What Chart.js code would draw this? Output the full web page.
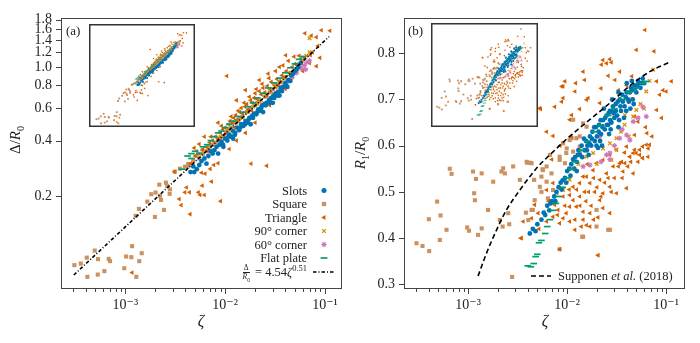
<!DOCTYPE html>
<html>
<head>
<meta charset="utf-8">
<script src="https://cdn.jsdelivr.net/npm/chart.js@4.4.0/dist/chart.umd.min.js"></script>
<style>
  body { margin: 0; background: #fff; }
  #wrap { position: relative; width: 700px; height: 343px; overflow: hidden; font-family: "Liberation Serif", "DejaVu Serif", serif; color: #222; }
  canvas { position: absolute; }
  .t { position: absolute; white-space: nowrap; line-height: 1; }
  .leg { position: absolute; left: 170px; width: 137px; text-align: right; font-size: 12.5px; line-height: 1; white-space: nowrap; }
  .frac { display: inline-block; vertical-align: middle; text-align: center; font-size: 7.5px; line-height: 1; margin-right: 2px; }
  .frac span { display: block; }
  .frac .num { border-bottom: 0.7px solid #222; padding: 0 1px; }
  .inset { background: #fff; }
</style>
</head>
<body>
<div id="wrap">
  <canvas id="chartA" width="350" height="343" style="left:0;top:0"></canvas>
  <canvas id="chartB" width="350" height="343" style="left:350px;top:0"></canvas>
  <canvas id="insetA" class="inset" width="106" height="103" style="left:89px;top:24px"></canvas>
  <canvas id="insetB" class="inset" width="107" height="104" style="left:431px;top:23px"></canvas>

  <div class="t" style="left:66px;top:24px;font-size:13px">(a)</div>
  <div class="t" style="left:408px;top:24px;font-size:13px">(b)</div>

  <div class="t" style="left:17px;top:140px;font-size:15px;transform:translate(-50%,-50%) rotate(-90deg)">&Delta;/<i>R</i><sub style="font-size:10px">0</sub></div>
  <div class="t" style="left:201px;top:321px;font-size:16px;transform:translate(-50%,-50%)"><i>&zeta;</i></div>
  <div class="t" style="left:362px;top:153px;font-size:15px;transform:translate(-50%,-50%) rotate(-90deg)"><i>R</i><sub style="font-size:10px">1</sub>/<i>R</i><sub style="font-size:10px">0</sub></div>
  <div class="t" style="left:545px;top:321px;font-size:16px;transform:translate(-50%,-50%)"><i>&zeta;</i></div>

  <div class="leg" style="top:184.5px">Slots</div>
  <div class="leg" style="top:198px">Square</div>
  <div class="leg" style="top:211.5px">Triangle</div>
  <div class="leg" style="top:225px">90° corner</div>
  <div class="leg" style="top:238.5px">60° corner</div>
  <div class="leg" style="top:252px">Flat plate</div>
  <div class="leg" style="top:264px"><span class="frac"><span class="num">&Delta;</span><span><i>R</i><sub style="font-size:5.5px">0</sub></span></span> = 4.54<i>&zeta;</i><sup style="font-size:8.5px">0.51</sup></div>

  <div class="t" style="left:558px;top:270px;font-size:12.5px">Supponen <i>et al.</i> (2018)</div>
</div>

<script>
// ---------- data: panel (a)  [zeta, Delta/R0] ----------
var slotsA = [[0.0045,0.27],[0.0048,0.29],[0.0049,0.27],[0.0052,0.28],[0.0058,0.31],[0.0062,0.32],[0.0065,0.30],[0.0068,0.33],
  [0.0072,0.35],[0.0078,0.355],[0.0082,0.37],[0.0085,0.34],[0.0088,0.38],[0.0092,0.395],[0.0096,0.37],[0.0100,0.41],
  [0.0105,0.40],[0.0110,0.43],[0.0115,0.42],[0.0120,0.45],[0.0120,0.41],[0.0126,0.44],[0.0132,0.47],[0.0138,0.455],
  [0.0145,0.49],[0.0152,0.48],[0.016,0.51],[0.0168,0.50],[0.0175,0.53],[0.018,0.49],[0.0185,0.54],[0.0195,0.56],
  [0.0205,0.555],[0.0215,0.59],[0.0225,0.58],[0.024,0.57],[0.0235,0.62],[0.0248,0.63],[0.026,0.64],[0.0275,0.66],
  [0.029,0.68],[0.030,0.64],[0.0305,0.70],[0.032,0.72],[0.034,0.73],[0.035,0.70],[0.036,0.77],[0.038,0.78],
  [0.040,0.82],[0.042,0.78],[0.043,0.85],[0.046,0.90],[0.050,0.95],[0.054,1.0],[0.057,1.05],
  [0.0055,0.295],[0.0075,0.34],[0.0095,0.38],[0.0108,0.42],[0.0125,0.43],[0.0142,0.47],[0.0158,0.49],[0.0172,0.52],
  [0.019,0.53],[0.021,0.57],[0.023,0.60],[0.0255,0.62],[0.028,0.64],[0.031,0.68],[0.0335,0.70],[0.037,0.74],
  [0.041,0.79],[0.045,0.84],[0.048,0.92],[0.052,0.97]];
var squareA = [[3.09e-4,0.0848],[3.58e-4,0.0865],[4.11e-4,0.0931],[4.17e-4,0.0733],[4.94e-4,0.1016],[5.33e-4,0.0914],
  [5.30e-4,0.0754],[6.17e-4,0.0787],[6.82e-4,0.0917],[7.03e-4,0.0891],[9.77e-4,0.0816],[1.02e-3,0.0944],[1.17e-3,0.1074],
  [1.15e-3,0.0936],[1.38e-3,0.0891],[1.46e-3,0.0984],[1.29e-3,0.0733],[1.27e-3,0.1566],[1.37e-3,0.1708],[1.66e-3,0.187],
  [1.82e-3,0.205],[2.01e-3,0.2094],[1.98e-3,0.1545],[2.19e-3,0.231],[2.22e-3,0.201],[2.28e-3,0.191],[2.44e-3,0.1687],
  [2.55e-3,0.237],[2.63e-3,0.2275],[2.80e-3,0.218],[2.78e-3,0.206],[3.14e-3,0.2717],[3.52e-3,0.282],[3.95e-3,0.289],
  [4.27e-3,0.299],[0.0042,0.29],[0.0048,0.31],[0.0055,0.32],[0.006,0.34],[0.0065,0.35],[0.007,0.37],[0.0075,0.38],
  [0.008,0.39],[0.0088,0.41],[0.0095,0.42],[0.0105,0.45],[0.0115,0.47],[0.0125,0.50],[0.0135,0.51],[0.015,0.54],
  [0.0165,0.57],[0.018,0.59],[0.02,0.62],[0.022,0.65],[0.025,0.69],[0.028,0.73],[0.032,0.78],[0.036,0.83],[0.04,0.88],
  [0.0052,0.33],[0.0068,0.36],[0.0085,0.40],[0.011,0.46],[0.014,0.53],[0.017,0.58],[0.021,0.64],[0.026,0.70],
  [0.03,0.76],[0.034,0.80]];
var triangleA = [[0.0045,0.30],[0.005,0.33],[0.0055,0.34],[0.006,0.36],[0.0065,0.37],[0.0068,0.35],[0.007,0.39],[0.0075,0.40],
  [0.008,0.42],[0.0085,0.41],[0.009,0.44],[0.0095,0.46],[0.01,0.47],[0.0102,0.44],[0.0108,0.49],[0.0112,0.51],[0.0118,0.50],
  [0.0122,0.53],[0.0128,0.55],[0.0132,0.52],[0.014,0.57],[0.0145,0.60],[0.015,0.56],[0.0158,0.61],[0.0165,0.63],[0.017,0.59],
  [0.018,0.66],[0.0188,0.64],[0.0195,0.68],[0.02,0.72],[0.021,0.67],[0.022,0.74],[0.023,0.71],[0.024,0.77],[0.025,0.73],
  [0.0265,0.79],[0.028,0.76],[0.029,0.83],[0.031,0.80],[0.033,0.86],[0.035,0.84],[0.037,0.90],[0.039,0.88],[0.041,0.95],
  [0.044,0.93],[0.047,1.0],[0.05,1.04],[0.053,1.02],[0.057,1.10],[0.062,1.12],
  [0.0104,0.894],[0.0405,1.157],[0.049,1.137],[0.0714,1.157],[0.082,1.01],[0.089,1.12],[0.073,1.476],[0.112,1.57],
  [0.092,1.58],[0.063,1.52],[0.082,1.45],[0.016,0.75],[0.013,0.66],[0.0085,0.50],[0.0062,0.42],[0.022,0.85],[0.027,0.92],
  [0.035,1.0],[0.0182,0.30],[0.0261,0.292],[0.0031,0.271],[0.0041,0.223],[0.00395,0.21],[0.0044,0.21],[0.00347,0.193],
  [0.00363,0.179],[0.00446,0.16],[0.0054,0.21],[0.0059,0.228],[0.0056,0.203],[0.0062,0.203],[0.0073,0.24],[0.009,0.188],
  [0.0058,0.268],[0.0063,0.265],[0.0071,0.281],[0.0077,0.295],[0.0085,0.302],[0.0049,0.365],[0.0059,0.356],[0.0055,0.383],
  [0.00117,0.0773],[0.011,0.36],[0.013,0.40],[0.016,0.44],[0.02,0.50],[0.028,0.62],[0.04,0.76],[0.06,0.95],[0.07,1.05],
  [0.075,1.2],[0.085,1.3],
  [0.0052,0.35],[0.0072,0.42],[0.0092,0.48],[0.0115,0.54],[0.0135,0.58],[0.0155,0.64],[0.0175,0.69],[0.0205,0.76],
  [0.0235,0.81],[0.0275,0.87],[0.032,0.95],[0.038,1.02],[0.043,1.08],[0.055,1.15],[0.0098,0.43],[0.0125,0.47],
  [0.0185,0.58],[0.026,0.70],[0.034,0.80],[0.045,0.90]];
var corner90A = [[0.009,0.42],[0.011,0.46],[0.013,0.50],[0.015,0.53],[0.017,0.57],[0.019,0.61],[0.021,0.63],[0.023,0.66],
  [0.026,0.71],[0.029,0.74],[0.032,0.79],[0.036,0.83],[0.04,0.87],[0.045,0.93],[0.05,0.98],[0.055,1.03],[0.06,1.08],
  [0.065,1.15],[0.07,1.2],[0.07,1.43]];
var corner60A = [[0.016,0.50],[0.019,0.55],[0.022,0.59],[0.025,0.63],[0.028,0.67],[0.031,0.70],[0.034,0.74],[0.038,0.78],
  [0.042,0.83],[0.047,0.88],[0.052,0.93],[0.058,0.98],[0.062,1.02],[0.066,1.06],[0.07,1.08],[0.064,0.97]];
var flatA = [[0.0037,0.28],[0.0042,0.33],[0.0046,0.32],[0.0046,0.34],[0.005,0.35],[0.0055,0.34],[0.006,0.37],[0.0066,0.38],
  [0.0072,0.40],[0.0078,0.42],[0.0085,0.44],[0.0092,0.45],[0.01,0.47],[0.011,0.49],[0.012,0.51],[0.0135,0.54],[0.015,0.57],
  [0.017,0.61],[0.019,0.64],[0.021,0.68],[0.024,0.72],[0.027,0.77],[0.031,0.82],[0.035,0.87],[0.04,0.93],[0.045,0.99],
  [0.05,1.04],[0.055,1.10],[0.06,1.14]];
var fitZeta = [3.05e-4, 0.11];
var fitDelta = [0.075, 1.46];

// ---------- data: panel (b)  [zeta, R1/R0] ----------
var slotsB = [[0.0042,0.41],[0.0045,0.42],[0.0048,0.415],[0.005,0.43],[0.0055,0.44],[0.006,0.45],[0.0063,0.47],[0.0066,0.46],
  [0.007,0.48],[0.0074,0.49],[0.0078,0.50],[0.0082,0.51],[0.0086,0.52],[0.009,0.525],[0.0095,0.53],[0.01,0.545],[0.0105,0.55],
  [0.011,0.56],[0.0115,0.57],[0.012,0.575],[0.0125,0.565],[0.013,0.59],[0.0135,0.58],[0.014,0.60],[0.015,0.59],[0.0155,0.61],
  [0.016,0.60],[0.017,0.62],[0.0175,0.60],[0.018,0.63],[0.019,0.61],[0.0195,0.64],[0.02,0.62],[0.021,0.645],[0.022,0.625],
  [0.023,0.655],[0.024,0.635],[0.025,0.665],[0.026,0.645],[0.027,0.675],[0.028,0.65],[0.029,0.685],[0.03,0.66],[0.031,0.69],
  [0.032,0.665],[0.034,0.70],[0.035,0.675],[0.036,0.71],[0.038,0.685],[0.04,0.715],[0.042,0.695],[0.044,0.725],[0.046,0.70],
  [0.048,0.73],[0.05,0.715],[0.052,0.74],[0.055,0.725],[0.058,0.745],[0.06,0.735],[0.0205,0.595],[0.0165,0.58],[0.0125,0.545],
  [0.0225,0.60],[0.0265,0.625],[0.033,0.64],[0.0375,0.66],[0.0435,0.68],[0.047,0.69],[0.0285,0.70],[0.0235,0.68],[0.033,0.715],
  [0.04,0.735],[0.045,0.74],
  [0.0058,0.455],[0.0068,0.475],[0.0076,0.48],[0.0088,0.505],[0.0098,0.52],[0.0108,0.535],[0.0118,0.55],[0.0128,0.58],
  [0.0142,0.575],[0.0148,0.615],[0.0158,0.59],[0.0168,0.605],[0.0178,0.615],[0.0188,0.64],[0.0198,0.60],[0.0208,0.63],
  [0.0218,0.655],[0.0228,0.64],[0.0242,0.66],[0.0252,0.645],[0.0262,0.67],[0.0272,0.655],[0.0282,0.675],[0.0295,0.67],
  [0.031,0.675],[0.0325,0.695],[0.0345,0.685],[0.0365,0.695],[0.039,0.705],[0.041,0.70],[0.043,0.715],[0.0455,0.72],
  [0.049,0.725],[0.051,0.73],[0.054,0.735],[0.057,0.735],[0.0335,0.655],[0.0395,0.675],[0.0275,0.635],[0.0215,0.61]];
var squareB = [[3.01e-4,0.389],[3.46e-4,0.383],[4.04e-4,0.372],[4.01e-4,0.441],[4.86e-4,0.479],[5.26e-4,0.449],[5.18e-4,0.396],
  [6.05e-4,0.418],[6.53e-4,0.55],[6.8e-4,0.539],[9.77e-4,0.423],[1.02e-3,0.416],[1.12e-3,0.544],[1.2e-3,0.528],[1.15e-3,0.497],
  [1.17e-3,0.482],[1.26e-3,0.407],[1.37e-3,0.421],[1.37e-3,0.54],[1.59e-3,0.461],[1.79e-3,0.522],[2.17e-3,0.544],[2.26e-3,0.551],
  [2.35e-3,0.54],[2.09e-3,0.439],[2.23e-3,0.425],[2.54e-3,0.454],[2.6e-3,0.43],[2.85e-3,0.555],[2.78e-3,0.316],[3.33e-3,0.526],
  [3.94e-3,0.563],[4.37e-3,0.562],[4.64e-3,0.526],[3.9e-3,0.565],[4.2e-3,0.563],[5.64e-3,0.549],[5.5e-3,0.533],[5.3e-3,0.511],
  [4.7e-3,0.482],[6.2e-3,0.522],[4.37e-3,0.461],[3.83e-3,0.455],[5.7e-3,0.547],[6.95e-3,0.54],[7.2e-3,0.504],[6.4e-3,0.486],
  [5.5e-3,0.5],[9.1e-3,0.605],[1.06e-2,0.612],[1.24e-2,0.616],[1.34e-2,0.598],[9.8e-3,0.584],[8.4e-3,0.569],[1.98e-2,0.461],
  [1.98e-2,0.425],[2.7e-2,0.418],[1.45e-2,0.403],[8.4e-3,0.376],[4.5e-3,0.461],[4.05e-3,0.439],[1.15e-2,0.656],[1.45e-2,0.648],
  [1.57e-2,0.641],[1.34e-2,0.62],[1.11e-2,0.616],[9.9e-3,0.594],[1.15e-2,0.587],[1.34e-2,0.587],[8.4e-3,0.576],[6.7e-3,0.58],
  [6.2e-3,0.555],[9.5e-3,0.562],[1.42e-2,0.403],[2.6e-2,0.418]];
var triangleB = [[6.1e-2,0.85],[5.0e-2,0.807],[7.55e-2,0.804],[2.22e-2,0.775],[2.5e-2,0.778],[2.8e-2,0.78],[2.7e-2,0.787],
  [1.45e-2,0.76],[3.4e-2,0.76],[2.6e-2,0.751],[3.04e-2,0.742],[9.5e-3,0.739],[1.22e-2,0.735],[8.8e-3,0.728],[2.2e-2,0.724],
  [1.2e-2,0.717],[1.63e-2,0.703],[1.57e-2,0.699],[9.1e-3,0.703],[8.8e-3,0.695],[2.14e-2,0.692],[7.5e-3,0.684],[5.4e-3,0.679],
  [1.34e-2,0.679],[8.0e-2,0.739],[0.113,0.739],[0.1,0.717],[9.3e-2,0.72],[8.6e-2,0.71],[1.11e-2,0.666],[1.06e-2,0.656],
  [7.2e-3,0.621],[6.2e-3,0.63],[4.8e-2,0.663],[5.2e-2,0.652],[8.0e-2,0.677],[6.4e-2,0.627],[4.8e-2,0.623],[6.8e-2,0.602],
  [5.8e-2,0.598],[6.6e-2,0.594],[4.65e-2,0.584],[5.4e-2,0.58],[4.3e-2,0.576],[5.8e-2,0.573],[3.55e-2,0.565],[3.83e-2,0.562],
  [1.5e-2,0.742],[2.3e-2,0.785],[9.1e-3,0.728],[5.3e-3,0.681],[3.46e-3,0.4],[2.05e-2,0.363],[8.4e-3,0.376],
  [1.57e-2,0.533],[1.83e-2,0.547],[1.7e-2,0.519],[2.14e-2,0.526],[2.5e-2,0.54],[2.92e-2,0.555],[3.4e-2,0.562],[3.67e-2,0.544],
  [4.3e-2,0.576],[5.0e-2,0.584],[5.8e-2,0.573],[6.55e-2,0.576],[4.65e-2,0.54],[2.7e-2,0.511],[2.3e-2,0.497],[1.9e-2,0.5],
  [1.5e-2,0.5],[1.34e-2,0.49],[1.15e-2,0.482],[1.06e-2,0.468],[1.24e-2,0.468],[1.45e-2,0.457],[1.7e-2,0.454],[9.8e-3,0.454],
  [9.1e-3,0.443],[8.4e-3,0.432],[1.06e-2,0.436],[1.39e-2,0.425],[1.57e-2,0.428],[8.1e-3,0.461],[7.5e-3,0.472],[9.1e-3,0.49],
  [1.06e-2,0.493],[1.15e-2,0.511],[1.34e-2,0.519],[1.45e-2,0.533],[1.98e-2,0.562],[2.3e-2,0.569],[2.7e-2,0.58],[3.15e-2,0.591],
  [3.98e-2,0.598],[4.8e-2,0.591],[5.4e-2,0.591],[6.3e-2,0.602],[7.2e-3,0.446],[6.2e-3,0.436],[5.1e-3,0.454],[4.37e-3,0.443],
  [4.7e-3,0.472],[3.6e-3,0.436],[1.7e-2,0.425],[1.2e-2,0.418],[2.7e-2,0.454],[2.14e-2,0.482],[3.15e-2,0.497],[3.98e-2,0.508],
  [7.2e-3,0.519],[6.2e-3,0.504],[3.4e-3,0.4],[2.05e-2,0.363],
  [0.0125,0.505],[0.0135,0.47],[0.0155,0.48],[0.0165,0.50],[0.0175,0.47],[0.0185,0.53],[0.02,0.51],[0.022,0.49],
  [0.024,0.52],[0.026,0.53],[0.028,0.50],[0.03,0.53],[0.033,0.555],[0.036,0.53],[0.041,0.555],[0.044,0.565],[0.038,0.585],
  [0.052,0.565],[0.0095,0.47],[0.0105,0.505],[0.008,0.45],[0.0185,0.44],[0.0205,0.445],[0.023,0.465],[0.0145,0.44],
  [0.012,0.44],[0.0065,0.48],[0.0058,0.455],[0.0052,0.42],[0.0115,0.55],[0.016,0.56],[0.011,0.62],[0.007,0.57],[0.0085,0.60],
  [0.062,0.64],[0.072,0.62],[0.09,0.66],[0.033,0.72],[0.04,0.73],[0.045,0.75]];
var corner90B = [[0.0078,0.497],[0.0091,0.504],[0.0106,0.526],[0.0115,0.551],[0.013,0.56],[0.0157,0.576],[0.0183,0.584],
  [0.023,0.594],[0.027,0.605],[0.028,0.569],[0.0315,0.591],[0.0315,0.616],[0.035,0.63],[0.038,0.645],[0.0383,0.666],
  [0.0465,0.663],[0.05,0.677],[0.055,0.69],[0.063,0.717],[0.068,0.74],[0.074,0.764],[0.042,0.62],[0.02,0.56],[0.045,0.70],
  [0.06,0.68]];
var corner60B = [[0.0145,0.555],[0.017,0.558],[0.0214,0.62],[0.025,0.58],[0.027,0.584],[0.027,0.57],[0.03,0.60],[0.034,0.616],
  [0.036,0.635],[0.043,0.612],[0.0398,0.623],[0.0465,0.652],[0.058,0.684],[0.063,0.663],[0.052,0.66],[0.022,0.565]];
var flatB = [[0.0040,0.34],[0.0043,0.338],[0.0046,0.345],[0.0048,0.36],[0.005,0.365],[0.0052,0.39],[0.0055,0.395],[0.006,0.41],
  [0.0063,0.425],[0.0067,0.44],[0.0072,0.46],[0.0077,0.475],[0.0082,0.49],[0.009,0.51],[0.01,0.53],[0.011,0.55],[0.012,0.565],
  [0.014,0.59],[0.016,0.61],[0.019,0.63],[0.022,0.645],[0.026,0.665],[0.03,0.68],[0.036,0.70],[0.042,0.715],[0.05,0.725],
  [0.058,0.735],[0.063,0.739]];
var suppZeta = [1.26e-3, 1.53e-3, 1.94e-3, 2.44e-3, 3.33e-3, 4.91e-3, 7.23e-3, 1.06e-2, 1.69e-2, 2.70e-2, 4.64e-2, 6.84e-2, 0.112];
var suppR = [0.318, 0.367, 0.418, 0.461, 0.504, 0.551, 0.587, 0.620, 0.656, 0.692, 0.735, 0.760, 0.782];

// ---------- ticks ----------
var xMajor = [0.001, 0.01, 0.1];
var xMajorLabels = ['10\u207B\u00B3', '10\u207B\u00B2', '10\u207B\u00B9'];
var xMinor = [3e-4, 4e-4, 5e-4, 6e-4, 7e-4, 8e-4, 9e-4, 2e-3, 3e-3, 4e-3, 5e-3, 6e-3, 7e-3, 8e-3, 9e-3,
  2e-2, 3e-2, 4e-2, 5e-2, 6e-2, 7e-2, 8e-2, 9e-2];
var yTicksA = [0.2, 0.4, 0.6, 0.8, 1.0, 1.2, 1.4, 1.6, 1.8];
var yTicksB = [0.3, 0.4, 0.5, 0.6, 0.7, 0.8];

var colors = {
    slots: '#0173b2', square: '#ca9161', triangle: '#d55e00',
    c90: '#de8f05', c60: '#cc78bc', flat: '#029e73'
};
var FONT = '"Liberation Serif", "DejaVu Serif", serif';

function toPts(a) {
    return a.map(function (p) { return {x: p[0], y: p[1]}; });
}
function zip(xs, ys) {
    return xs.map(function (x, i) { return {x: x, y: ys[i]}; });
}

// marker styles shared by the scatter and the legend
var markers = {
    slots: {pointStyle: 'circle', radius: 2.4, rotation: 0, borderWidth: 0, color: colors.slots},
    square: {pointStyle: 'rect', radius: 2.9, rotation: 0, borderWidth: 0, color: colors.square},
    triangle: {pointStyle: 'triangle', radius: 2.7, rotation: -90, borderWidth: 0, color: colors.triangle},
    c90: {pointStyle: 'crossRot', radius: 2.5, rotation: 0, borderWidth: 1.3, color: colors.c90},
    c60: {pointStyle: 'star', radius: 2.6, rotation: 0, borderWidth: 1.1, color: colors.c60},
    flat: {pointStyle: 'line', radius: 3.3, rotation: 0, borderWidth: 1.7, color: colors.flat}
};

function scatterSet(label, data, m, order, scale) {
    return {
        label: label,
        data: toPts(data),
        showLine: false,
        pointStyle: m.pointStyle,
        pointRadius: m.radius * scale,
        pointRotation: m.rotation,
        pointBorderWidth: m.borderWidth > 0 ? m.borderWidth * scale : 0,
        pointBackgroundColor: m.color,
        pointBorderColor: m.color,
        order: order
    };
}

function panelSets(d, scale) {
    return [
        scatterSet('Slots', d.slots, markers.slots, 3, scale),
        scatterSet('Square', d.square, markers.square, 7, scale),
        scatterSet('Triangle', d.triangle, markers.triangle, 6, scale),
        scatterSet('90° corner', d.c90, markers.c90, 5, scale),
        scatterSet('60° corner', d.c60, markers.c60, 4, scale),
        scatterSet('Flat plate', d.flat, markers.flat, 2, scale)
    ];
}

// frame + outward tick marks drawn from the scales
var frameTicks = {
    id: 'frameTicks',
    afterDraw: function (chart, args, opts) {
        var ctx = chart.ctx, a = chart.chartArea;
        var xs = chart.scales.x, ys = chart.scales.y;
        ctx.save();
        ctx.strokeStyle = '#444';
        ctx.lineWidth = 1;
        ctx.beginPath();
        (opts.xMajor || []).forEach(function (v) {
            var px = Math.round(xs.getPixelForValue(v)) + 0.5;
            ctx.moveTo(px, a.bottom); ctx.lineTo(px, a.bottom + 5);
        });
        (opts.xMinor || []).forEach(function (v) {
            var px = Math.round(xs.getPixelForValue(v)) + 0.5;
            ctx.moveTo(px, a.bottom); ctx.lineTo(px, a.bottom + 3);
        });
        (opts.yMajor || []).forEach(function (v) {
            var py = Math.round(ys.getPixelForValue(v)) + 0.5;
            ctx.moveTo(a.left, py); ctx.lineTo(a.left - 5, py);
        });
        ctx.stroke();
        ctx.lineWidth = opts.frameWidth || 1;
        ctx.strokeStyle = opts.frameColor || '#444';
        var inset = (opts.frameWidth || 1) / 2;
        ctx.strokeRect(Math.round(a.left) + inset, Math.round(a.top) + inset,
            Math.round(a.right - a.left) - 2 * inset, Math.round(a.bottom - a.top) - 2 * inset);
        ctx.restore();
    }
};

// legend markers (panel a) and dashed sample (panel b)
var legendMarks = {
    id: 'legendMarks',
    afterDraw: function (chart, args, opts) {
        var ctx = chart.ctx;
        ctx.save();
        (opts.items || []).forEach(function (it) {
            if (it.marker) {
                var m = it.marker;
                ctx.fillStyle = m.color;
                ctx.strokeStyle = m.color;
                ctx.lineWidth = m.borderWidth || 1;
                Chart.helpers.drawPoint(ctx, {
                    pointStyle: m.pointStyle, radius: m.radius * 1.05, rotation: m.rotation,
                    borderWidth: m.borderWidth
                }, it.x, it.y);
            } else {
                ctx.strokeStyle = '#000';
                ctx.lineWidth = 1.6;
                ctx.setLineDash(it.dash);
                ctx.beginPath();
                ctx.moveTo(it.x, it.y);
                ctx.lineTo(it.x2, it.y);
                ctx.stroke();
                ctx.setLineDash([]);
            }
        });
        ctx.restore();
    }
};

function logTicks(scale) {
    scale.ticks = xMajor.concat(xMinor).sort(function (a, b) { return a - b; })
        .map(function (v) { return {value: v}; });
}
function xLabel(v) {
    var i = xMajor.indexOf(v);
    return i >= 0 ? xMajorLabels[i] : '';
}

function mainOptions(cfg) {
    return {
        responsive: false,
        animation: false,
        events: [],
        layout: {autoPadding: false, padding: {top: 18, right: cfg.padRight, left: 0, bottom: 0}},
        plugins: {
            legend: {display: false},
            tooltip: {enabled: false},
            frameTicks: {xMajor: xMajor, xMinor: xMinor, yMajor: cfg.yTicks},
            legendMarks: {items: cfg.legendItems}
        },
        scales: {
            x: {
                type: 'logarithmic', min: cfg.xMin, max: cfg.xMax,
                grid: {display: false, drawTicks: false}, border: {display: false},
                afterBuildTicks: logTicks,
                afterFit: function (s) { s.height = 54; },
                ticks: {
                    autoSkip: false, maxRotation: 0, minRotation: 0, padding: 8,
                    color: '#222', font: {family: FONT, size: 14},
                    callback: function (v) { return xLabel(v); }
                }
            },
            y: {
                type: cfg.yType, min: cfg.yMin, max: cfg.yMax,
                grid: {display: false, drawTicks: false}, border: {display: false},
                afterBuildTicks: function (s) {
                    s.ticks = cfg.yTicks.map(function (v) { return {value: v}; });
                },
                afterFit: function (s) { s.width = cfg.yWidth; },
                ticks: {
                    autoSkip: false, padding: 9,
                    color: '#222', font: {family: FONT, size: 14},
                    callback: function (v) { return Number(v).toFixed(1); }
                }
            }
        }
    };
}

function insetOptions(cfg) {
    return {
        responsive: false,
        animation: false,
        events: [],
        layout: {autoPadding: false, padding: 0},
        plugins: {
            legend: {display: false},
            tooltip: {enabled: false},
            frameTicks: {frameWidth: 1.5, frameColor: '#333'}
        },
        scales: {
            x: {type: 'logarithmic', min: cfg.xMin, max: cfg.xMax, display: false},
            y: {type: cfg.yType, min: cfg.yMin, max: cfg.yMax, display: false}
        }
    };
}

var dataA = {slots: slotsA, square: squareA, triangle: triangleA, c90: corner90A, c60: corner60A, flat: flatA};
var dataB = {slots: slotsB, square: squareB, triangle: triangleB, c90: corner90B, c60: corner60B, flat: flatB};

// legend rows of panel (a), to the right of the html labels
var legendX = 324;
var legendA = [
    {x: legendX, y: 190.5, marker: markers.slots},
    {x: legendX, y: 204, marker: markers.square},
    {x: legendX, y: 217.5, marker: markers.triangle},
    {x: legendX, y: 231, marker: markers.c90},
    {x: legendX, y: 244.5, marker: markers.c60},
    {x: legendX, y: 258, marker: markers.flat},
    {x: 313, x2: 334, y: 272, dash: [3.5, 2, 1, 2]}
];
var legendB = [{x: 181, x2: 201, y: 276, dash: [5, 3]}];

// ---------- panel (a) ----------
var setsA = panelSets(dataA, 1);
setsA.push({
    label: 'fit', data: zip(fitZeta, fitDelta), showLine: true, pointRadius: 0,
    borderColor: '#000', borderWidth: 1.6, borderDash: [3.5, 2, 1, 2], order: 0
});
new Chart(document.getElementById('chartA'), {
    type: 'scatter',
    data: {datasets: setsA},
    options: mainOptions({
        padRight: 8, yWidth: 61, xMin: 2.27e-4, xMax: 0.148,
        yType: 'logarithmic', yMin: 0.063, yMax: 1.84, yTicks: yTicksA, legendItems: legendA
    }),
    plugins: [frameTicks, legendMarks]
});

// ---------- panel (b) ----------
var setsB = panelSets(dataB, 1);
setsB.push({
    label: 'Supponen et al. (2018)', data: zip(suppZeta, suppR), showLine: true, pointRadius: 0,
    borderColor: '#000', borderWidth: 1.6, borderDash: [5, 3], cubicInterpolationMode: 'monotone', order: 0
});
new Chart(document.getElementById('chartB'), {
    type: 'scatter',
    data: {datasets: setsB},
    options: mainOptions({
        padRight: 15, yWidth: 54, xMin: 2.25e-4, xMax: 0.155,
        yType: 'linear', yMin: 0.29, yMax: 0.876, yTicks: yTicksB, legendItems: legendB
    }),
    plugins: [frameTicks, legendMarks]
});

// ---------- insets ----------
new Chart(document.getElementById('insetA'), {
    type: 'scatter',
    data: {datasets: panelSets(dataA, 0.45)},
    options: insetOptions({xMin: 1.9e-4, xMax: 0.195, yType: 'logarithmic', yMin: 0.065, yMax: 2.12}),
    plugins: [frameTicks]
});
new Chart(document.getElementById('insetB'), {
    type: 'scatter',
    data: {datasets: panelSets(dataB, 0.45)},
    options: insetOptions({xMin: 2.04e-4, xMax: 0.18, yType: 'linear', yMin: 0.268, yMax: 0.886}),
    plugins: [frameTicks]
});
</script>
</body>
</html>
